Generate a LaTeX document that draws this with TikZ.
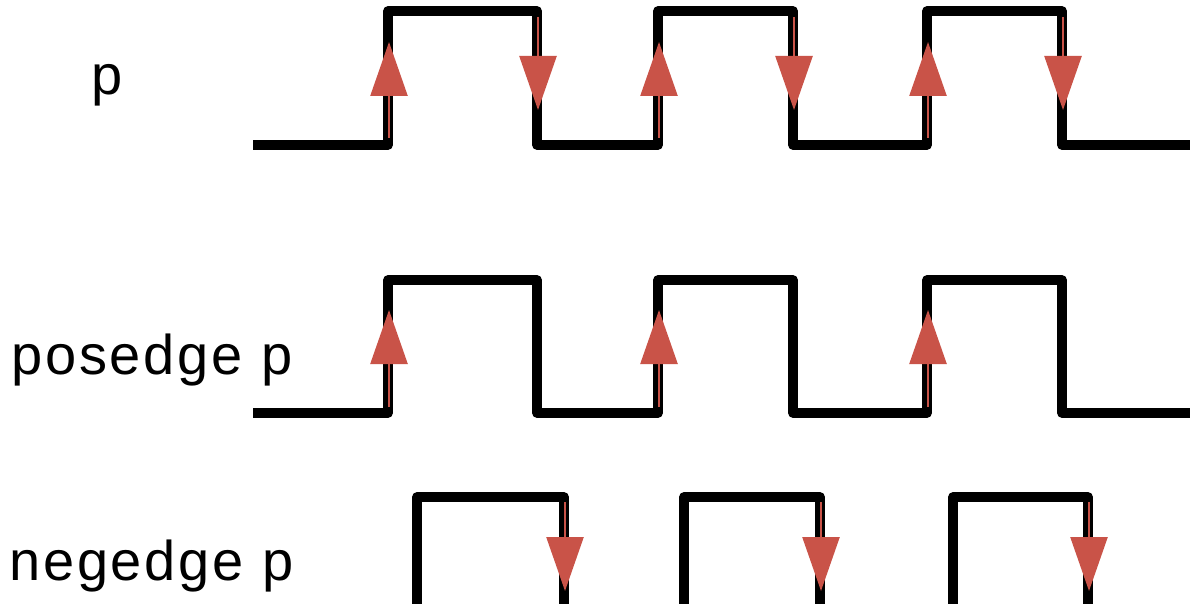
\documentclass[tikz,border=0pt]{standalone}
\usepackage{fontspec}
\setmainfont{Liberation Sans}[LetterSpace=5]
\usetikzlibrary{arrows.meta}
\definecolor{edgered}{RGB}{201,83,72}
\tikzset{
  wave/.style={line width=9.5pt, line join=round, line cap=butt, black},
  edgearrow/.style={draw=edgered, line width=2.5pt,
    -{Triangle[width=37pt,length=54pt]}, edgered},
  sig/.style={anchor=base west, inner sep=0pt, font=\fontsize{56}{60}\selectfont}
}
\begin{document}
\begin{tikzpicture}[x=1pt,y=-1pt]
\useasboundingbox (0,0) rectangle (1190,604);
\clip (0,0) rectangle (1190,604);

% signal names
\node[sig] (lp)   at (91,95)  {p};
\node[sig] (lpos) at (11,374) {posedge p};
\node[sig] (lneg) at (9,580)  {negedge p};

% p
\draw[wave] (253,145) -- (388,145) -- (388,11) -- (537,11) -- (537,145)
  -- (658,145) -- (658,11) -- (793,11) -- (793,145)
  -- (927,145) -- (927,11) -- (1062,11) -- (1062,145) -- (1195,145);
\foreach \x in {389,659,928}
  \draw[edgearrow] (\x,138) -- (\x,42);
\foreach \x in {538,794,1063}
  \draw[edgearrow] (\x,17) -- (\x,110);

% posedge p
\draw[wave] (253,413) -- (388,413) -- (388,280) -- (537,280) -- (537,413)
  -- (658,413) -- (658,280) -- (793,280) -- (793,413)
  -- (927,413) -- (927,280) -- (1062,280) -- (1062,413) -- (1195,413);
\foreach \x in {389,659,928}
  \draw[edgearrow] (\x,407) -- (\x,310);

% negedge p
\foreach \a/\b in {417/564, 684/820, 953/1088}
  \draw[wave] (\a,615) -- (\a,497) -- (\b,497) -- (\b,615);
\foreach \x in {565,821,1089}
  \draw[edgearrow] (\x,502) -- (\x,591);
\end{tikzpicture}
\end{document}
